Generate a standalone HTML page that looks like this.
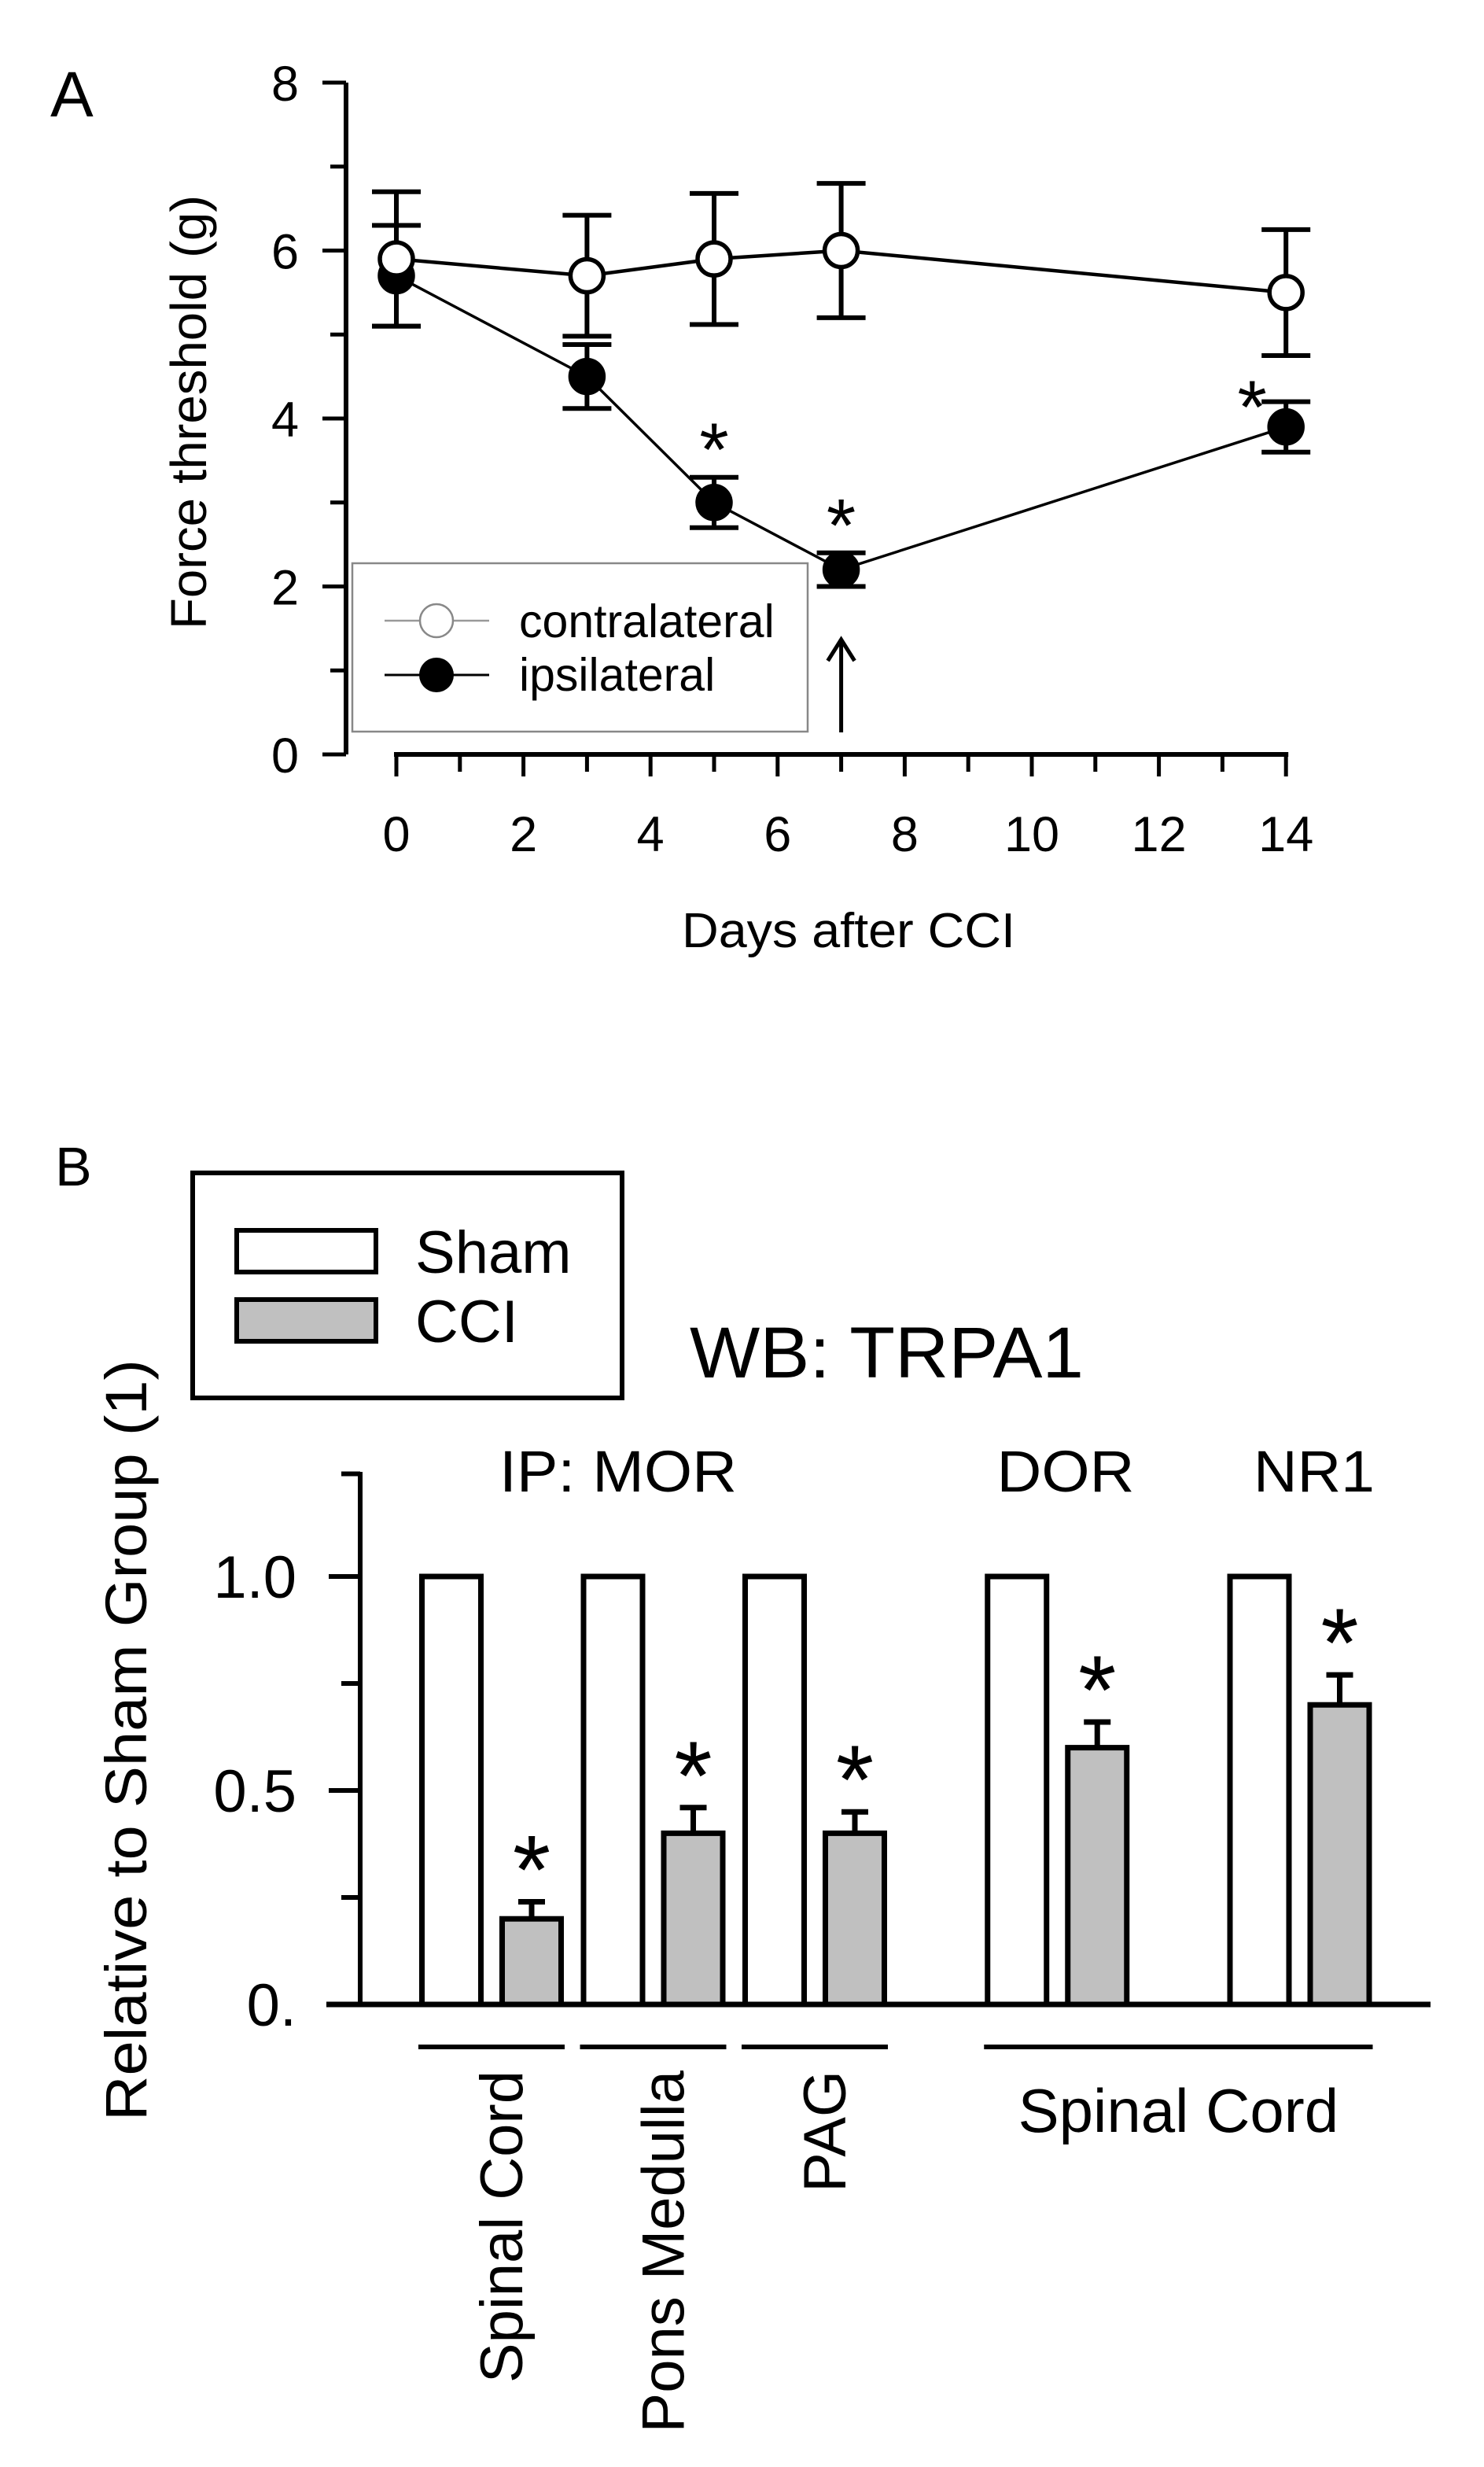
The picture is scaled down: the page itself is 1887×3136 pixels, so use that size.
<!DOCTYPE html>
<html><head><meta charset="utf-8"><style>
html,body{margin:0;padding:0;background:#fff}
svg{display:block}
text{font-family:"Liberation Sans",Arial,sans-serif;fill:#000}
</style></head><body>
<svg id="fig" width="1887" height="3136" viewBox="0 0 1887 3136" xmlns="http://www.w3.org/2000/svg">
<rect width="1887" height="3136" fill="#fff"/>
<g id="panelA"></g>
<g id="panelB"></g>
</svg>
<script>
// ---------- Panel A data ----------
const daysA = [0, 3, 5, 7, 14];
const contraVals = [5.9, 5.7, 5.9, 6.0, 5.5];
const contraErr = [0.8, 0.72, 0.78, 0.8, 0.75];
const ipsiVals = [5.7, 4.5, 3.0, 2.2, 3.9];
const ipsiErr = [0.6, 0.38, 0.3, 0.2, 0.3];
const ipsiSig = [false, false, true, true, true];
const yTicksA = [0, 2, 4, 6, 8];
const xTicksA = [0, 2, 4, 6, 8, 10, 12, 14];

// ---------- Panel B data ----------
const regions = ["Spinal Cord", "Pons Medulla", "PAG", "DOR", "NR1"];
const shamVals = [1, 1, 1, 1, 1];
const cciVals = [0.2, 0.4, 0.4, 0.6, 0.7];
const cciErr = [0.04, 0.06, 0.05, 0.06, 0.07];
const yTickLabelsB = ["0.", "0.5", "1.0"];
const yTickValsB = [0, 0.5, 1.0];

const NS = "http://www.w3.org/2000/svg";
function mk(parent, tag, attrs, txt) {
  const e = document.createElementNS(NS, tag);
  for (const k in attrs) e.setAttribute(k, attrs[k]);
  if (txt !== undefined) e.textContent = txt;
  parent.appendChild(e);
  return e;
}

// ===== Panel A =====
const A = document.getElementById('panelA');
const xA = d => 504 + d * 80.8;
const yA = v => 959 - v * 106.75;

let t = mk(A, 'text', {x: 64, y: 148, 'font-size': 82}, 'A');



let yAxis = mk(A, 'line', {x1: 440, y1: yA(8), x2: 440, y2: yA(0), stroke: '#000', 'stroke-width': 6});


for (let v = 0; v <= 8; v++) {
  const tk = mk(A, 'line', {x1: v % 2 === 0 ? 410 : 420, y1: yA(v), x2: 440, y2: yA(v), stroke: '#000', 'stroke-width': 5});
  
  
}
yTicksA.forEach(v => {
  const l = mk(A, 'text', {x: 380, y: yA(v) + 23, 'font-size': 63, 'text-anchor': 'end'}, String(v));
  
  
});
let xAxis = mk(A, 'line', {x1: xA(0) - 3, y1: 959, x2: xA(14) + 3, y2: 959, stroke: '#000', 'stroke-width': 6});


for (let d = 0; d <= 14; d++) {
  const tk = mk(A, 'line', {x1: xA(d), y1: 959, x2: xA(d), y2: d % 2 === 0 ? 987 : 981, stroke: '#000', 'stroke-width': 5});
  
  
}
xTicksA.forEach(d => {
  const l = mk(A, 'text', {x: xA(d), y: 1082, 'font-size': 63, 'text-anchor': 'middle'}, String(d));
  
  
});
t = mk(A, 'text', {x: 1079, y: 1204, 'font-size': 62, 'text-anchor': 'middle', textLength: 424, lengthAdjust: 'spacingAndGlyphs'}, 'Days after CCI');


t = mk(A, 'text', {x: 0, y: 0, 'font-size': 64, 'text-anchor': 'middle', transform: 'translate(262,524) rotate(-90)', textLength: 552, lengthAdjust: 'spacingAndGlyphs'}, 'Force threshold (g)');



function series(vals, errs, filled, name) {
  const g = mk(A, 'g', {});
  
  
  const pts = daysA.map((d, i) => xA(d) + ',' + yA(vals[i])).join(' ');
  const pl = mk(g, 'polyline', {points: pts, fill: 'none', stroke: '#000', 'stroke-width': filled ? 3.5 : 4.5});
  
  
  daysA.forEach((d, i) => {
    const x = xA(d), y1 = yA(vals[i] + errs[i]), y2 = yA(vals[i] - errs[i]);
    const eb = mk(g, 'path', {d: `M${x},${y1}V${y2}M${x-31},${y1}H${x+31}M${x-31},${y2}H${x+31}`, stroke: '#000', 'stroke-width': 6, fill: 'none'});
    
    
  });
  daysA.forEach((d, i) => {
    const c = mk(g, 'circle', {cx: xA(d), cy: yA(vals[i]), r: 21, fill: filled ? '#000' : '#fff', stroke: '#000', 'stroke-width': 5.5});
    
    
  });
}
series(ipsiVals, ipsiErr, true, 'ipsilateral');
series(contraVals, contraErr, false, 'contralateral');

ipsiSig.forEach((s, i) => {
  if (!s) return;
  const last = i === daysA.length - 1;
  const cx = xA(daysA[i]) + (last ? -43 : 0);
  const cy = yA(ipsiVals[i] + ipsiErr[i]) - (last ? 10 : 52);
  const a = mk(A, 'text', {x: cx, y: cy + 50, 'font-size': 96, 'text-anchor': 'middle'}, '*');
  
  
});

// arrow at day 7
let arr = mk(A, 'path', {d: `M${xA(7)},931V815M${xA(7)-17},840L${xA(7)},813L${xA(7)+17},840`, stroke: '#000', 'stroke-width': 5, fill: 'none'});



// legend A
const LA = mk(A, 'g', {});


mk(LA, 'rect', {x: 448, y: 716, width: 579, height: 214, fill: '#fff', stroke: '#888', 'stroke-width': 2.5});
let le = mk(LA, 'g', {});


mk(le, 'line', {x1: 489, y1: 789, x2: 622, y2: 789, stroke: '#999', 'stroke-width': 2.5});
mk(le, 'circle', {cx: 555, cy: 789, r: 21, fill: '#fff', stroke: '#888', 'stroke-width': 2.5});
mk(le, 'text', {x: 660, y: 810, 'font-size': 59}, 'contralateral');
le = mk(LA, 'g', {});


mk(le, 'line', {x1: 489, y1: 858, x2: 622, y2: 858, stroke: '#000', 'stroke-width': 3});
mk(le, 'circle', {cx: 555, cy: 858, r: 22, fill: '#000'});
mk(le, 'text', {x: 660, y: 878, 'font-size': 59}, 'ipsilateral');

// ===== Panel B =====
const B = document.getElementById('panelB');
const yB = v => 2548 - v * 544;
const slot = i => i + (i >= 3 ? 0.5 : 0) + (i >= 4 ? 0.5 : 0);
const xB = i => 625 + slot(i) * 205.5;
const barW = 75;

t = mk(B, 'text', {x: 70, y: 1507, 'font-size': 70}, 'B');



// legend B
const LB = mk(B, 'g', {});


mk(LB, 'rect', {x: 245, y: 1491, width: 546, height: 286, fill: '#fff', stroke: '#000', 'stroke-width': 6});
le = mk(LB, 'g', {});


mk(le, 'rect', {x: 301, y: 1564, width: 177, height: 53, fill: '#fff', stroke: '#000', 'stroke-width': 6});
mk(le, 'text', {x: 528, y: 1618, 'font-size': 76}, 'Sham');
le = mk(LB, 'g', {});


mk(le, 'rect', {x: 301, y: 1652, width: 177, height: 53, fill: '#c0c0c0', stroke: '#000', 'stroke-width': 6});
mk(le, 'text', {x: 528, y: 1706, 'font-size': 76}, 'CCI');

t = mk(B, 'text', {x: 877, y: 1751, 'font-size': 92, textLength: 501, lengthAdjust: 'spacingAndGlyphs'}, 'WB: TRPA1');



t = mk(B, 'text', {x: 0, y: 0, 'font-size': 74, 'text-anchor': 'middle', transform: 'translate(186,2212) rotate(-90)', textLength: 968, lengthAdjust: 'spacingAndGlyphs'}, 'Relative to Sham Group (1)');



let yaB = mk(B, 'line', {x1: 458, y1: 1871, x2: 458, y2: 2551, stroke: '#000', 'stroke-width': 6});


[0, 0.25, 0.5, 0.75, 1.0, 1.24].forEach(v => {
  const major = [0, 0.5, 1.0].includes(v);
  const tk = mk(B, 'line', {x1: major ? 418 : 434, y1: yB(v), x2: 458, y2: yB(v), stroke: '#000', 'stroke-width': 6});
  
  
});
yTickValsB.forEach((v, i) => {
  const l = mk(B, 'text', {x: 377, y: yB(v) + 27, 'font-size': 76, 'text-anchor': 'end'}, yTickLabelsB[i]);
  
  
});

regions.forEach((r, i) => {
  const pc = xB(i);
  const sh = mk(B, 'rect', {x: pc - 51 - barW / 2, y: yB(shamVals[i]), width: barW, height: yB(0) - yB(shamVals[i]), fill: '#fff', stroke: '#000', 'stroke-width': 7});
  
  
  const cx = pc + 51;
  const et = yB(cciVals[i] + cciErr[i]);
  const eb = mk(B, 'path', {d: `M${cx},${yB(cciVals[i])}V${et}M${cx-17},${et}H${cx+17}`, stroke: '#000', 'stroke-width': 7, fill: 'none'});
  
  
  const cb = mk(B, 'rect', {x: cx - barW / 2, y: yB(cciVals[i]), width: barW, height: yB(0) - yB(cciVals[i]), fill: '#c0c0c0', stroke: '#000', 'stroke-width': 7});
  
  
  const as = mk(B, 'text', {x: cx, y: et - 64 + 66, 'font-size': 124, 'text-anchor': 'middle'}, '*');
  
  
});

let xaB = mk(B, 'line', {x1: 415, y1: 2548, x2: 1819, y2: 2548, stroke: '#000', 'stroke-width': 7});



// group labels above
[["IP: MOR", 786, 302], ["DOR", 1355, 175], ["NR1", 1671, 154]].forEach(([s, x, w]) => {
  const l = mk(B, 'text', {x: x, y: 1896, 'font-size': 74, 'text-anchor': 'middle', textLength: w, lengthAdjust: 'spacingAndGlyphs'}, s);
  
  
});

// underlines
[[0, 0], [1, 1], [2, 2], [3, 4]].forEach(([a, b]) => {
  const ul = mk(B, 'line', {x1: xB(a) - 93, y1: 2602, x2: xB(b) + 93, y2: 2602, stroke: '#000', 'stroke-width': 6});
  
  
});
// rotated region labels
[0, 1, 2].forEach(i => {
  const l = mk(B, 'text', {x: 0, y: 0, 'font-size': 76, 'text-anchor': 'end', transform: `translate(${xB(i) + 39},2632) rotate(-90)`}, regions[i]);
  
  
});
t = mk(B, 'text', {x: (xB(3) + xB(4)) / 2, y: 2710, 'font-size': 78, 'text-anchor': 'middle'}, 'Spinal Cord');


</script>
</body></html>
